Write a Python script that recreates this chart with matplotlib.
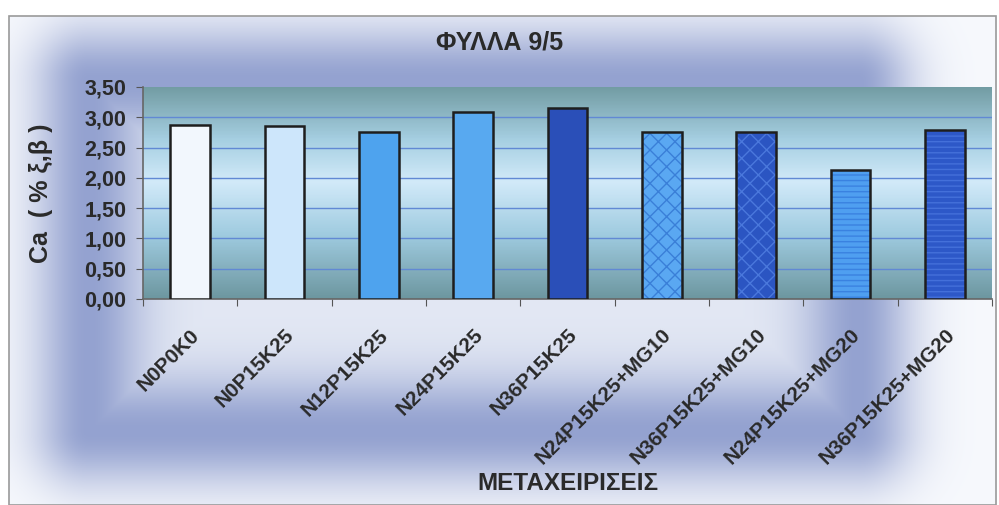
import numpy as np
import matplotlib
matplotlib.use("Agg")
import matplotlib.pyplot as plt
import matplotlib.transforms as mtransforms
from matplotlib.colors import LinearSegmentedColormap, to_rgb
from matplotlib.patches import Rectangle

# data
treatments = ["N0P0K0", "N0P15K25", "N12P15K25", "N24P15K25", "N36P15K25",
              "N24P15K25+MG10", "N36P15K25+MG10", "N24P15K25+MG20", "N36P15K25+MG20"]
ca_values = [2.87, 2.86, 2.75, 3.08, 3.15, 2.76, 2.76, 2.13, 2.79]
bar_colors = ["#f2f7fd", "#cde6fb", "#4ea3ee", "#58a9f0", "#2a4fb8",
              "#5aa8f2", "#2b55c2", "#4f9ff0", "#2d58c8"]
hatch_colors = [None, None, None, None, None, "#3a7fd8", "#4a78dc", "#3a82e0", "#4470da"]
hatches = [None, None, None, None, None, "xx", "xx", "---", "---"]
yticks = [0, 0.5, 1.0, 1.5, 2.0, 2.5, 3.0, 3.5]

plt.rcParams['font.family'] = ['Liberation Sans', 'DejaVu Sans']
plt.rcParams['font.weight'] = 'bold'
text_color = "#2a2a2a"

W, H = 999, 505
fig = plt.figure(figsize=(W / 100, H / 100), dpi=100)
fig.patch.set_facecolor("white")

# outer chart frame: soft rectangular ring gradient
fx0, fy0, fx1, fy1 = 9, 16, 996, 505
bg = fig.add_axes([fx0 / W, 0, (fx1 - fx0) / W, (H - fy0) / H])
bg.set_axis_off()
X, Y = np.meshgrid(np.linspace(fx0, fx1, 500), np.linspace(fy0, fy1, 250))
rx0, rx1, ry0, ry1 = 88, 858, 80, 432
inside = (X > rx0) & (X < rx1) & (Y > ry0) & (Y < ry1)
d_in = np.minimum.reduce([X - rx0, rx1 - X, Y - ry0, ry1 - Y])
dx = np.maximum.reduce([rx0 - X, np.zeros_like(X), X - rx1])
dy = np.maximum.reduce([ry0 - Y, np.zeros_like(Y), Y - ry1])
d_out = np.hypot(dx, dy)
glow = np.where(inside, np.exp(-(d_in / 55) ** 2), np.exp(-(d_out / 55) ** 2))
base_in = np.array(to_rgb("#e3e8f4"))
base_out = np.array(to_rgb("#f7f9fd"))
dark = np.array(to_rgb("#94a2d0"))
base = np.where(inside[..., None], base_in, base_out)
img = base * (1 - glow[..., None]) + dark * glow[..., None]
bg.imshow(img, aspect="auto", extent=(0, 1, 0, 1), origin="upper")
fig.patches.append(Rectangle((fx0 / W, 0), (fx1 - fx0) / W, (H - fy0) / H,
                             transform=fig.transFigure, fill=False,
                             edgecolor="#9a9a9a", linewidth=1.2, zorder=5))

# plot area
px0, py0, px1, py1 = 143, 87, 992, 299
ax = fig.add_axes([px0 / W, 1 - py1 / H, (px1 - px0) / W, (py1 - py0) / H])
n = len(treatments)
area_cmap = LinearSegmentedColormap.from_list(
    "area", [(0, "#6d97a0"), (0.3, "#9fcbe0"), (0.55, "#d2eaf9"),
             (0.75, "#a6cfe2"), (1.0, "#729ca3")])
grad = np.linspace(0, 1, 200).reshape(-1, 1)
ax.imshow(grad, cmap=area_cmap, aspect="auto", extent=(0, n, 3.5, 0),
          zorder=0)
ax.set_xlim(0, n)
ax.set_ylim(0, 3.5)

for yv in yticks[1:-1]:
    ax.axhline(yv, color="#6189d4", linewidth=1, zorder=1)

pos = np.arange(n) + 0.5
for i in range(n):
    if hatches[i] is None:
        ax.bar(pos[i], ca_values[i], width=0.42, color=bar_colors[i],
               edgecolor="#1e1e1e", linewidth=1.8, zorder=3)
    else:
        ax.bar(pos[i], ca_values[i], width=0.42, color=bar_colors[i],
               edgecolor=hatch_colors[i], hatch=hatches[i], linewidth=0, zorder=3)
        ax.bar(pos[i], ca_values[i], width=0.42, fill=False,
               edgecolor="#1e1e1e", linewidth=1.8, zorder=4)

ax.set_yticks(yticks)
ax.set_yticklabels([f"{t:.2f}".replace(".", ",") for t in yticks], fontsize=15.5,
                   fontweight="bold", color=text_color)
ax.set_xticks(np.arange(n + 1))
ax.set_xticklabels([])
ax.set_xticks(pos, minor=True)
ax.set_xticklabels(treatments, minor=True, rotation=45, ha="right", va="top",
                   rotation_mode="anchor", fontsize=15, fontweight="bold",
                   color=text_color)
shift = mtransforms.ScaledTranslation(-14 / 100, 0, fig.dpi_scale_trans)
for lbl in ax.get_xticklabels(minor=True):
    lbl.set_transform(lbl.get_transform() + shift)
ax.tick_params(axis="x", which="minor", length=0, pad=19)
ax.tick_params(axis="x", which="major", length=5, color="#555555")
ax.tick_params(axis="y", length=5, color="#555555", pad=7)
for s in ["top", "right"]:
    ax.spines[s].set_visible(False)
for s in ["left", "bottom"]:
    ax.spines[s].set_color("#666666")
    ax.spines[s].set_linewidth(1.2)

fig.text(41 / W, 1 - 193 / H, "Ca  ( % ξ,β )", rotation=90, ha="center",
         va="center", fontsize=18, fontweight="bold", color=text_color)
fig.text(0.5, 1 - 42 / H, "ΦΥΛΛΑ 9/5", ha="center", va="center", fontsize=18,
         fontweight="bold", color=text_color)
fig.text((px0 + px1) / 2 / W, 1 - 484 / H, "ΜΕΤΑΧΕΙΡΙΣΕΙΣ", ha="center",
         va="center", fontsize=17.5, fontweight="bold", color=text_color)

fig.savefig("out.png", dpi=100)
